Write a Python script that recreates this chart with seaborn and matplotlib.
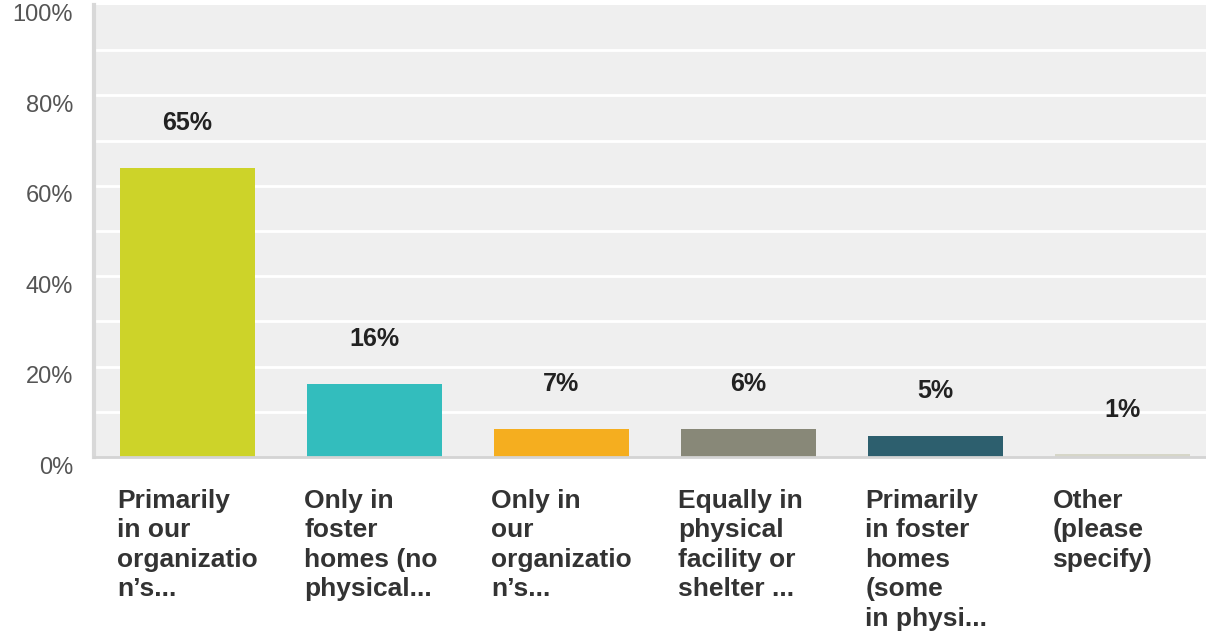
import matplotlib
matplotlib.use("Agg")
import matplotlib.pyplot as plt
import matplotlib.transforms as mtransforms
import seaborn as sns

# survey answers (wrapped the way the source tool wrapped them)
CATEGORIES = [
    "Primarily\nin our\norganizatio\nn\u2019s...",
    "Only in\nfoster\nhomes (no\nphysical...",
    "Only in\nour\norganizatio\nn\u2019s...",
    "Equally in\nphysical\nfacility or\nshelter ...",
    "Primarily\nin foster\nhomes\n(some\nin physi...",
    "Other\n(please\nspecify)",
]
VALUES = [64.0, 16.2, 6.3, 6.3, 4.7, 0.6]
VALUE_LABELS = ["65%", "16%", "7%", "6%", "5%", "1%"]
COLORS = ["#cdd329", "#33bdbd", "#f5ae1f", "#888878", "#2d5f6e", "#d6d6c8"]
Y_TICKS = [0, 20, 40, 60, 80, 100]

FONT = ["Liberation Sans", "DejaVu Sans"]
BAR_WIDTH = 0.72

sns.set_theme(style="white")
plt.rcParams["font.family"] = FONT

fig = plt.figure(figsize=(12.06, 6.31), dpi=100)
ax = fig.add_axes([94 / 1206, 1 - 457 / 631, 1 - 94 / 1206, (457 - 5) / 631])
ax.set_facecolor("#efefef")

sns.barplot(x=CATEGORIES, y=VALUES, hue=CATEGORIES, palette=COLORS,
            width=BAR_WIDTH, legend=False, saturation=1, linewidth=0, ax=ax)

ax.set_ylim(0, 100)
ax.set_xlim(-0.5, -0.5 + (1206 - 94) / 187)

# white grid every 10%, labels every 20%
for y in range(10, 100, 10):
    ax.axhline(y, color="white", lw=2, zorder=0)
ax.set_axisbelow(True)

ax.set_yticks(Y_TICKS)
ax.set_yticklabels([f"{t}%" for t in Y_TICKS], fontsize=17, color="#555555")
ax.tick_params(axis="y", length=0, pad=15)
offset = mtransforms.ScaledTranslation(0, -0.08, fig.dpi_scale_trans)
for lbl in ax.get_yticklabels():
    lbl.set_transform(lbl.get_transform() + offset)

ax.set_xticks([])
ax.set_xlabel("")

for side in ["top", "right"]:
    ax.spines[side].set_visible(False)
ax.spines["left"].set_color("#d8d8d8")
ax.spines["left"].set_linewidth(3)
ax.spines["bottom"].set_color("#d4d4d4")
ax.spines["bottom"].set_linewidth(2)

# value labels above bars
for i, (v, lab) in enumerate(zip(VALUES, VALUE_LABELS)):
    ax.annotate(lab, (i, v), xytext=(0, 32), textcoords="offset points",
                ha="center", va="center", fontsize=18, fontweight="bold",
                color="#222222")

# category labels, left-aligned under each bar
trans = mtransforms.blended_transform_factory(ax.transData, ax.transAxes)
for i, cat in enumerate(CATEGORIES):
    ax.text(i - BAR_WIDTH / 2 - 0.015, -0.07, cat, transform=trans,
            ha="left", va="top", fontsize=19, fontweight="bold",
            color="#333333", linespacing=1.29)

fig.savefig("out.png", dpi=100)
